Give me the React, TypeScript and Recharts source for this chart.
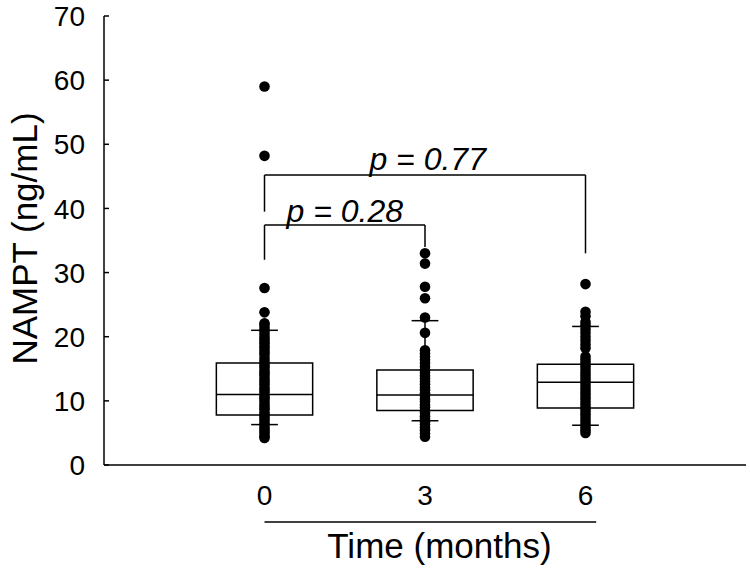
import React from 'react';
import { ComposedChart, XAxis, YAxis, Scatter, ReferenceArea, ReferenceLine, ReferenceDot } from 'recharts';

// time points (months)
const months = [0, 3, 6];

// individual NAMPT values per time point
const dots0 = [59.0, 48.2, 27.6, 23.8, 22.1, 21.7, 21.2, 20.8, 20.3, 19.8, 19.4, 19.0, 18.5, 18.1, 17.6, 17.2, 16.6,
  16.1, 15.6, 15.2, 14.7, 14.3, 13.9, 13.4, 13.0, 12.6, 12.1, 11.7, 11.3, 10.8, 10.4, 10.0, 9.5, 9.1, 8.7, 8.2,
  7.8, 7.4, 7.0, 6.5, 6.1, 5.7, 5.3, 4.9, 4.5, 4.2];
const dots3 = [33.0, 31.4, 27.8, 26.0, 23.0, 20.6, 17.9, 17.4, 16.9, 16.4, 15.9, 15.3, 14.8, 14.4, 13.9, 13.5, 13.0,
  12.6, 12.1, 11.7, 11.2, 10.8, 10.3, 9.9, 9.4, 9.0, 8.5, 8.1, 7.6, 7.2, 6.7, 6.3, 5.8, 5.4, 4.9, 4.4];
const dots6 = [28.2, 23.9, 23.2, 22.3, 21.8, 21.2, 20.6, 20.0, 19.4, 18.8, 18.2, 16.9, 16.4, 15.9, 15.4, 14.9, 14.4,
  13.9, 13.4, 12.9, 12.4, 11.9, 11.4, 10.9, 10.4, 9.9, 9.4, 8.9, 8.4, 7.9, 7.4, 6.9, 6.4, 5.9, 5.4, 5.0];

// box plot statistics per time point
const whiskLow = [6.3, 6.9, 6.2];
const q1 = [7.8, 8.5, 8.9];
const medians = [11.0, 10.9, 12.9];
const q3 = [15.9, 14.8, 15.7];
const whiskHigh = [21.0, 22.5, 21.6];

const yTicks = [0, 10, 20, 30, 40, 50, 60, 70];

// comparison brackets
const pLabels = ['p = 0.28', 'p = 0.77'];
const bracketTo = [3, 6];
const bracketTop = [37.4, 45.2];
const bracketLeftEnd = [32.0, 39.5];
const bracketRightEnd = [34.0, 33.0];
const pLabelX = [1.5, 3.05];
const pLabelY = [37.9, 46.0];

const BOX_HALF = 0.9;
const CAP_HALF = 0.25;
const X_DOMAIN: [number, number] = [-3, 9];
const FONT = '"Liberation Sans", Arial, sans-serif';

const scatterData = [dots0, dots3, dots6].map((vals, i) => vals.map((y) => ({ x: months[i], y })));

const Dot = (props: any) => <circle cx={props.cx} cy={props.cy} r={5.3} fill="#000" />;

const YTick = (props: any) => {
  const { x, y, payload } = props;
  return (
    <g>
      <line x1={x + 19} x2={x + 24} y1={y} y2={y} stroke="#000" strokeWidth={1.5} />
      <text x={x} y={y} dy="0.36em" textAnchor="end" fontSize={28} fontFamily={FONT} fill="#000">
        {payload.value}
      </text>
    </g>
  );
};

const YTitle = (props: any) => {
  const vb = props.viewBox;
  const cy = vb.y + vb.height / 2 - 2;
  return (
    <text x={24} y={cy} transform={`rotate(-90 24 ${cy})`} textAnchor="middle" dominantBaseline="central"
      fontSize={35} fontFamily={FONT} fill="#000">
      NAMPT (ng/mL)
    </text>
  );
};

const XTitle = (props: any) => {
  const vb = props.viewBox;
  const sx = (v: number) => vb.x + ((v - X_DOMAIN[0]) / (X_DOMAIN[1] - X_DOMAIN[0])) * vb.width;
  return (
    <g>
      <line x1={sx(0)} x2={sx(6.2)} y1={vb.y + 57} y2={vb.y + 57} stroke="#000" strokeWidth={1.5} />
      <text x={sx(3.27)} y={vb.y + 93} textAnchor="middle" fontSize={35} fontFamily={FONT} fill="#000">
        Time (months)
      </text>
    </g>
  );
};

const PText = (text: string) => (props: any) => (
  <text x={props.cx} y={props.cy} textAnchor="middle" fontSize={32} fontStyle="italic" fontFamily={FONT} fill="#000">
    {text}
  </text>
);

export default function App() {
  const line = { stroke: '#000', strokeWidth: 1.5 };
  return (
    <div style={{ position: 'absolute', left: 0, top: 0, background: '#fff' }}>
      <ComposedChart width={750} height={569} margin={{ top: 16, right: 4, left: 44, bottom: 54 }}>
        <XAxis type="number" dataKey="x" domain={X_DOMAIN} ticks={months} allowDataOverflow
          axisLine={line} tickLine={false} tickSize={0} tickMargin={20} height={50}
          tick={{ fontSize: 28, fontFamily: FONT, fill: '#000' }} label={<XTitle />} />
        <YAxis type="number" dataKey="y" domain={[0, 70]} ticks={yTicks} allowDataOverflow width={60}
          axisLine={line} tickLine={false} tickSize={0} tickMargin={19} tick={<YTick />} label={<YTitle />} />

        {months.map((m, i) => (
          <ReferenceArea key={`box${i}`} x1={m - BOX_HALF} x2={m + BOX_HALF} y1={q1[i]} y2={q3[i]}
            fill="none" fillOpacity={0} {...line} />
        ))}
        {months.map((m, i) => (
          <ReferenceLine key={`med${i}`} segment={[{ x: m - BOX_HALF, y: medians[i] }, { x: m + BOX_HALF, y: medians[i] }]} {...line} />
        ))}
        {months.map((m, i) => (
          <ReferenceLine key={`wu${i}`} segment={[{ x: m, y: q3[i] }, { x: m, y: whiskHigh[i] }]} {...line} />
        ))}
        {months.map((m, i) => (
          <ReferenceLine key={`wl${i}`} segment={[{ x: m, y: q1[i] }, { x: m, y: whiskLow[i] }]} {...line} />
        ))}
        {months.map((m, i) => (
          <ReferenceLine key={`cu${i}`} segment={[{ x: m - CAP_HALF, y: whiskHigh[i] }, { x: m + CAP_HALF, y: whiskHigh[i] }]} {...line} />
        ))}
        {months.map((m, i) => (
          <ReferenceLine key={`cl${i}`} segment={[{ x: m - CAP_HALF, y: whiskLow[i] }, { x: m + CAP_HALF, y: whiskLow[i] }]} {...line} />
        ))}

        {scatterData.map((d, i) => (
          <Scatter key={`s${i}`} data={d} shape={<Dot />} isAnimationActive={false} />
        ))}

        {pLabels.map((_, i) => (
          <ReferenceLine key={`bt${i}`} segment={[{ x: 0, y: bracketTop[i] }, { x: bracketTo[i], y: bracketTop[i] }]} {...line} />
        ))}
        {pLabels.map((_, i) => (
          <ReferenceLine key={`bl${i}`} segment={[{ x: 0, y: bracketTop[i] }, { x: 0, y: bracketLeftEnd[i] }]} {...line} />
        ))}
        {pLabels.map((_, i) => (
          <ReferenceLine key={`br${i}`} segment={[{ x: bracketTo[i], y: bracketTop[i] }, { x: bracketTo[i], y: bracketRightEnd[i] }]} {...line} />
        ))}
        {pLabels.map((t, i) => (
          <ReferenceDot key={`pt${i}`} x={pLabelX[i]} y={pLabelY[i]} r={0} shape={PText(t)} />
        ))}
      </ComposedChart>
    </div>
  );
}
